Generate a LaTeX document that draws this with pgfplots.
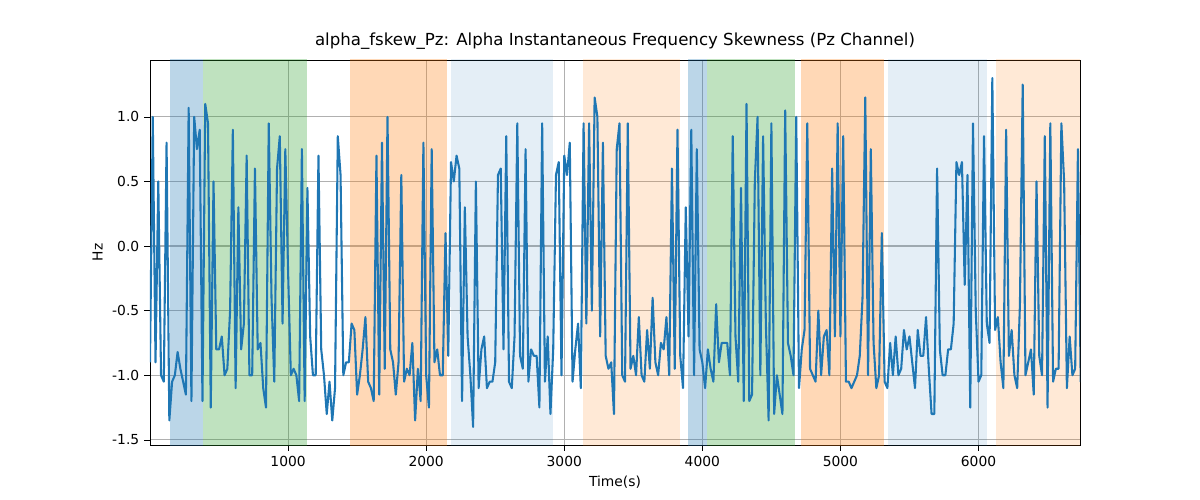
\documentclass[border=0pt]{standalone}
\usepackage{pgfplots}
\pgfplotsset{compat=1.18}
\usepackage{fontspec}
\setmainfont{DejaVu Sans}
\definecolor{tblue}{HTML}{1F77B4}
\definecolor{tgreen}{HTML}{2CA02C}
\definecolor{torange}{HTML}{FF7F0E}
\begin{document}
\begin{tikzpicture}
\path (-1.5in,-0.55in) rectangle (10.5in,4.45in);
\begin{axis}[at={(0,0)},anchor=south west,scale only axis,
width=9.3in,height=3.85in,xmin=0,xmax=6735,ymin=-1.54,ymax=1.44,
xtick={1000,2000,3000,4000,5000,6000},ytick={-1.5,-1,-0.5,0,0.5,1},
yticklabel style={/pgf/number format/.cd,fixed,fixed zerofill,precision=1},
/pgf/number format/assume math mode=true,
/pgf/number format/1000 sep={},
tick pos=left,
grid=major,grid style={color={rgb,255:red,176;green,176;blue,176},line width=0.8pt},
tick style={black},tick align=outside,
ticklabel style={font=\fontsize{10}{12}\selectfont},
title={alpha\_fskew\_Pz: Alpha Instantaneous Frequency Skewness (Pz Channel)},
title style={font=\fontsize{12}{14}\selectfont,yshift=-2pt},
xlabel={Time(s)},ylabel={Hz},
label style={font=\fontsize{10}{12}\selectfont},
]
\fill[tblue,opacity=0.3] (axis cs:145,-2) rectangle (axis cs:384,2);
\fill[tgreen,opacity=0.3] (axis cs:384,-2) rectangle (axis cs:1138,2);
\fill[torange,opacity=0.3] (axis cs:1449,-2) rectangle (axis cs:2152,2);
\fill[tblue,opacity=0.12] (axis cs:2181,-2) rectangle (axis cs:2920,2);
\fill[torange,opacity=0.17] (axis cs:3138,-2) rectangle (axis cs:3841,2);
\fill[tblue,opacity=0.3] (axis cs:3899,-2) rectangle (axis cs:4036,2);
\fill[tgreen,opacity=0.3] (axis cs:4036,-2) rectangle (axis cs:4674,2);
\fill[torange,opacity=0.3] (axis cs:4717,-2) rectangle (axis cs:5312,2);
\fill[tblue,opacity=0.12] (axis cs:5341,-2) rectangle (axis cs:6065,2);
\fill[torange,opacity=0.17] (axis cs:6123,-2) rectangle (axis cs:6740,2);
\addplot[tblue,line width=1.5pt,line join=round] table[x expr=\coordindex*20,y index=0,header=false]{
-0.9
1.0
-0.9
0.5
-1.0
-1.05
0.8
-1.35
-1.05
-1.0
-0.82
-0.95
-1.05
-1.15
1.07
-1.2
1.0
0.75
0.9
-1.2
1.1
0.95
-1.25
0.5
-0.8
-0.8
-0.7
-1.0
-0.95
-0.5
0.9
-1.1
0.3
-0.8
-0.6
0.7
-1.0
-1.0
0.6
-0.8
-0.75
-1.1
-1.25
0.95
-0.4
-1.05
0.6
0.85
-0.6
0.75
-0.2
-1.0
-0.95
-1.0
-1.2
0.75
-1.2
0.45
-0.7
-1.0
-1.0
0.7
-0.8
-1.0
-1.3
-1.05
-1.35
-1.1
0.85
0.55
-1.0
-0.9
-0.9
-0.6
-0.65
-1.15
-1.0
-0.8
-0.55
-1.05
-1.1
-1.2
0.7
-1.15
0.8
-0.95
1.0
-0.8
-0.9
-1.15
-0.9
0.55
-1.05
-0.95
-1.0
-0.75
-1.35
-0.95
-1.2
0.8
-1.0
-1.25
0.75
-0.9
-0.8
-1.0
-1.0
0.1
-0.85
0.65
0.5
0.7
0.6
-1.2
0.3
-0.7
-1.0
-1.4
0.5
-1.1
-0.8
-0.7
-1.1
-1.05
-1.05
-0.9
0.55
0.6
-0.8
0.85
-1.05
-1.1
-0.7
0.95
-0.85
-0.95
0.75
-1.05
-0.8
-0.85
-0.85
-1.25
0.95
-1.05
-0.7
-1.3
-0.8
0.55
0.65
-1.0
0.7
0.55
0.8
-1.05
-0.8
-0.6
-1.1
0.95
-0.6
0.95
-0.5
1.15
1.0
-0.7
0.8
-0.85
-0.95
-0.9
-1.3
0.75
0.95
-1.0
-1.05
0.95
-0.95
-0.85
-1.0
-0.55
-1.0
-1.05
-0.65
-0.95
-0.4
-0.9
-1.0
-0.75
-0.8
-0.55
-1.0
0.6
-0.95
0.9
-0.85
-1.1
0.3
-0.7
0.9
-1.0
0.75
-0.8
-0.9
-1.1
-0.8
-0.95
-1.05
-0.45
-0.9
-0.75
-0.75
-0.75
-1.0
0.85
-0.7
-1.05
0.45
-1.2
1.1
-1.2
-1.15
0.5
1.0
-1.0
0.85
-0.6
-1.35
0.95
-1.3
-1.0
-1.15
-1.3
1.05
-0.75
-0.85
-1.0
1.0
-1.1
-0.8
-0.65
0.95
-0.95
-1.0
-1.05
-0.5
-1.0
-0.7
-0.65
-1.0
0.6
-0.7
0.95
-0.7
0.85
-1.05
-1.05
-1.1
-1.05
-1.0
-0.85
-0.4
1.15
-1.0
0.75
-0.75
-1.1
-1.0
0.1
-1.05
-1.1
-0.75
-1.0
-0.7
-1.0
-0.95
-0.65
-0.8
-0.7
-0.9
-1.1
-0.65
-0.85
-0.85
-0.55
-0.95
-1.3
-1.3
0.6
-0.8
-1.0
-1.0
-0.8
-0.8
-0.6
0.65
0.55
0.65
-0.3
0.55
-1.25
0.95
-0.5
-1.05
-1.0
0.85
-0.6
-0.75
1.3
-0.65
-0.55
-0.9
-1.1
0.9
-0.85
-0.65
-1.0
-1.1
-0.45
1.25
-1.0
-0.9
-0.8
-1.15
0.5
-0.85
-1.0
0.85
-1.25
0.95
-1.05
-0.95
-0.95
0.95
0.5
-1.1
-0.7
-1.0
-0.95
0.75
-1.05
-0.45
-1.1
-1.1
};
\end{axis}
\end{tikzpicture}
\end{document}
